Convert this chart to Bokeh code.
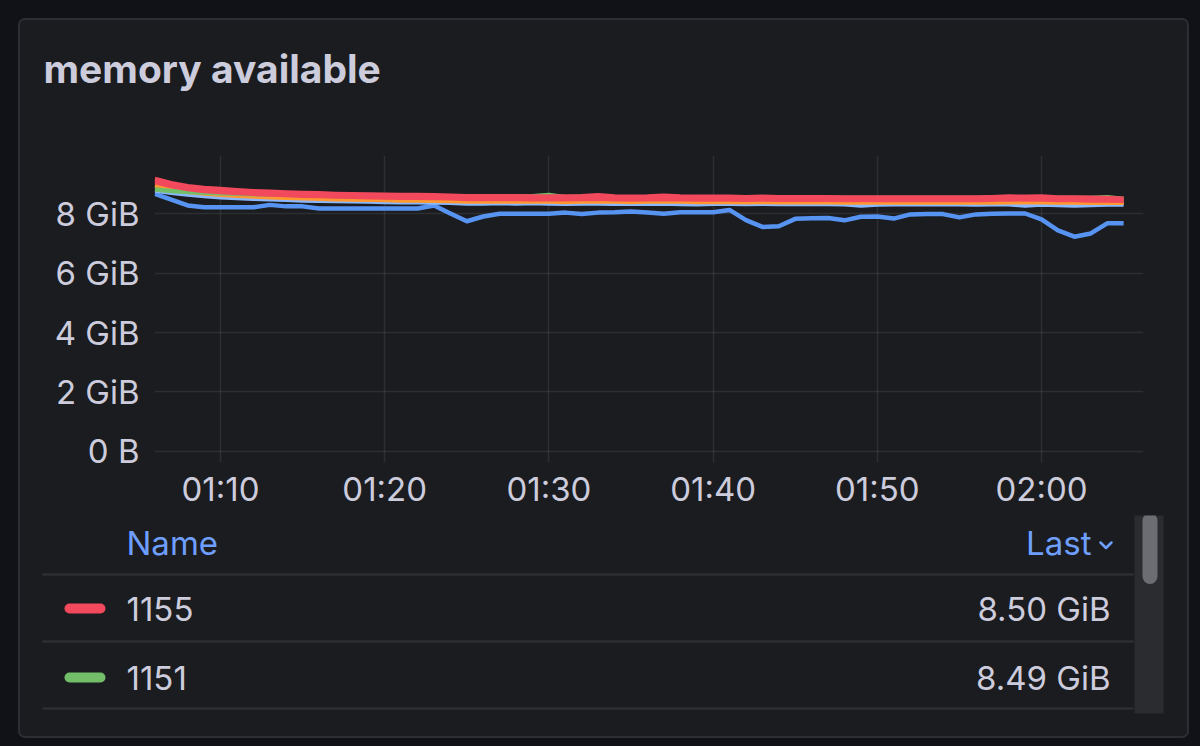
from bokeh.plotting import figure
from bokeh.models import Range1d, FixedTicker
from bokeh.layouts import column
from bokeh.core.properties import value
from bokeh.embed import file_html
from bokeh.resources import INLINE

# ---------------- data ----------------
minutes = list(range(66, 126))  # 01:06 .. 02:05, one sample per minute

s1150 = [8.66, 8.47, 8.27, 8.21, 8.21, 8.21, 8.21, 8.29, 8.24, 8.24,
         8.17, 8.17, 8.17, 8.17, 8.17, 8.17, 8.17, 8.27, 8.00, 7.74,
         7.90, 7.99, 7.99, 7.99, 7.99, 8.03, 7.98, 8.03, 8.04, 8.07,
         8.03, 7.99, 8.04, 8.04, 8.04, 8.12, 7.78, 7.55, 7.57, 7.82,
         7.84, 7.85, 7.77, 7.89, 7.90, 7.83, 7.97, 7.98, 7.98, 7.87,
         7.97, 7.99, 8.00, 8.00, 7.80, 7.43, 7.22, 7.33, 7.67, 7.67]
s1154 = [8.77, 8.70, 8.64, 8.59, 8.55, 8.52, 8.50, 8.48, 8.46, 8.44,
         8.43, 8.42, 8.41, 8.40, 8.39, 8.38, 8.38, 8.37, 8.36, 8.34,
         8.34, 8.35, 8.34, 8.35, 8.34, 8.33, 8.34, 8.34, 8.33, 8.34,
         8.33, 8.34, 8.32, 8.31, 8.33, 8.33, 8.32, 8.33, 8.32, 8.32,
         8.33, 8.32, 8.31, 8.27, 8.30, 8.31, 8.31, 8.31, 8.31, 8.31,
         8.30, 8.31, 8.31, 8.27, 8.30, 8.29, 8.27, 8.29, 8.30, 8.30]
s1152 = [8.94, 8.82, 8.73, 8.67, 8.63, 8.60, 8.57, 8.55, 8.53, 8.51,
         8.50, 8.48, 8.47, 8.46, 8.45, 8.44, 8.44, 8.43, 8.42, 8.40,
         8.40, 8.40, 8.40, 8.40, 8.40, 8.39, 8.40, 8.40, 8.40, 8.39,
         8.40, 8.40, 8.40, 8.39, 8.39, 8.39, 8.38, 8.39, 8.38, 8.38,
         8.38, 8.38, 8.37, 8.37, 8.37, 8.37, 8.37, 8.37, 8.37, 8.37,
         8.37, 8.37, 8.38, 8.38, 8.38, 8.37, 8.37, 8.36, 8.36, 8.36]
s1151 = [8.81, 8.76, 8.72, 8.70, 8.68, 8.66, 8.65, 8.64, 8.63, 8.62,
         8.62, 8.61, 8.61, 8.60, 8.60, 8.59, 8.59, 8.58, 8.57, 8.56,
         8.56, 8.56, 8.57, 8.58, 8.62, 8.55, 8.56, 8.57, 8.55, 8.54,
         8.55, 8.56, 8.55, 8.54, 8.54, 8.54, 8.53, 8.54, 8.53, 8.53,
         8.53, 8.53, 8.52, 8.52, 8.52, 8.52, 8.52, 8.52, 8.52, 8.52,
         8.52, 8.53, 8.54, 8.54, 8.54, 8.52, 8.52, 8.52, 8.55, 8.49]
s1153 = [9.06, 8.92, 8.82, 8.76, 8.72, 8.69, 8.66, 8.64, 8.62, 8.60,
         8.59, 8.57, 8.56, 8.55, 8.54, 8.53, 8.53, 8.52, 8.51, 8.49,
         8.49, 8.49, 8.49, 8.48, 8.48, 8.48, 8.49, 8.50, 8.48, 8.47,
         8.48, 8.49, 8.48, 8.47, 8.47, 8.47, 8.46, 8.47, 8.46, 8.46,
         8.46, 8.46, 8.45, 8.45, 8.45, 8.45, 8.45, 8.45, 8.45, 8.45,
         8.45, 8.46, 8.48, 8.47, 8.47, 8.45, 8.45, 8.44, 8.44, 8.43]
s1155 = [9.16, 9.02, 8.92, 8.86, 8.82, 8.78, 8.75, 8.73, 8.71, 8.69,
         8.68, 8.66, 8.65, 8.64, 8.63, 8.62, 8.62, 8.61, 8.60, 8.58,
         8.58, 8.58, 8.58, 8.57, 8.57, 8.57, 8.58, 8.61, 8.57, 8.56,
         8.57, 8.60, 8.57, 8.56, 8.56, 8.56, 8.55, 8.56, 8.55, 8.55,
         8.55, 8.55, 8.54, 8.54, 8.54, 8.54, 8.54, 8.54, 8.54, 8.54,
         8.54, 8.55, 8.57, 8.56, 8.57, 8.54, 8.54, 8.53, 8.52, 8.50]

series_names = ["1150", "1154", "1152", "1151", "1153", "1155"]
series_values = [s1150, s1154, s1152, s1151, s1153, s1155]
series_colors = ["#5794F2", "#8AB8FF", "#FF9830", "#73BF69", "#F2495C", "#F2495C"]

x_ticks = [70, 80, 90, 100, 110, 120]
x_tick_labels = ["01:10", "01:20", "01:30", "01:40", "01:50", "02:00"]
y_ticks = [0, 2, 4, 6, 8]
y_tick_labels = ["0 B", "2 GiB", "4 GiB", "6 GiB", "8 GiB"]

legend_names = ["1155", "1151"]
legend_colors = ["#F2495C", "#73BF69"]
legend_last = ["8.50 GiB", "8.49 GiB"]

TITLE = "memory available"

# ---------------- style ----------------
OUTER = "#111217"
PANEL = "#1b1c20"
BORDER = "#2c2e33"
TEXT = "#ccccdc"
LINK = "#6E9FFF"
FONT = "Inter"

# panel content box in page pixels
CX0, CX1 = 20, 1187
TY0, TY1 = 20, 120      # title strip
AY0, AY1 = 120, 515     # chart strip
BY0, BY1 = 515, 736     # legend strip
W = CX1 - CX0


def canvas_fig(y0, y1):
    f = figure(width=W, height=y1 - y0, output_backend="svg", toolbar_location=None,
               x_range=Range1d(CX0, CX1), y_range=Range1d(y1, y0),
               min_border=0, background_fill_color=PANEL, border_fill_color=PANEL,
               outline_line_color=None, frame_align=False)
    f.axis.visible = False
    f.grid.visible = False
    return f


# ---- title strip ----
t = canvas_fig(TY0, TY1)
t.text(x=[43], y=[68], text=[TITLE], text_font=value(FONT), text_font_size="39px",
       text_font_style="bold", text_color=TEXT, text_baseline="middle")

# ---- chart ----
p = figure(width=W, height=AY1 - AY0, output_backend="svg", toolbar_location=None,
           x_range=Range1d(65.98, 126.21), y_range=Range1d(-0.37, 9.95),
           min_border_left=154 - CX0, min_border_right=CX1 - 1143,
           min_border_top=155 - AY0, min_border_bottom=AY1 - 462,
           background_fill_color=PANEL, border_fill_color=PANEL,
           outline_line_color=None, frame_align=False)

for name, vals, col in zip(series_names, series_values, series_colors):
    p.line(minutes, vals, line_color=col, line_width=4.5, line_join="round")

p.xaxis.ticker = FixedTicker(ticks=x_ticks)
p.xaxis.major_label_overrides = dict(zip(x_ticks, x_tick_labels))
p.yaxis.ticker = FixedTicker(ticks=y_ticks)
p.yaxis.major_label_overrides = dict(zip(y_ticks, y_tick_labels))
for ax in (p.xaxis, p.yaxis):
    ax.axis_line_color = None
    ax.major_tick_line_color = None
    ax.minor_tick_line_color = None
    ax.major_tick_out = 0
    ax.major_tick_in = 0
    ax.major_label_text_font = FONT
    ax.major_label_text_font_size = "33px"
    ax.major_label_text_color = TEXT
p.xaxis.major_label_standoff = 6
p.yaxis.major_label_standoff = 15
p.grid.grid_line_color = TEXT
p.grid.grid_line_alpha = 0.1
p.grid.grid_line_width = 1.5

# ---- legend strip ----
b = canvas_fig(BY0, BY1)
b.text(x=[126], y=[542], text=["Name"], text_font=value(FONT), text_font_size="33px",
       text_color=LINK, text_baseline="middle")
b.text(x=[1091], y=[542], text=["Last"], text_font=value(FONT), text_font_size="33px",
       text_color=LINK, text_baseline="middle", text_align="right")
# sort chevron
b.line(x=[1100, 1105.5, 1111], y=[542, 547.5, 542], line_color=LINK, line_width=2.5,
       line_join="round", line_cap="round")
b.segment(x0=[42, 42, 42], x1=[1133, 1133, 1133], y0=[574, 641, 708], y1=[574, 641, 708],
          line_color=BORDER, line_width=2.5)
row_y = [608, 677]
b.segment(x0=[69] * 2, x1=[100] * 2, y0=row_y, y1=row_y, line_color=legend_colors,
          line_width=10, line_cap="round")
b.text(x=[126] * 2, y=row_y, text=legend_names, text_font=value(FONT),
       text_font_size="33px", text_color=TEXT, text_baseline="middle")
b.text(x=[1110] * 2, y=row_y, text=legend_last, text_font=value(FONT),
       text_font_size="33px", text_color=TEXT, text_baseline="middle", text_align="right")
# scrollbar
b.quad(left=[1134], right=[1163], top=[509], bottom=[713], fill_color="#2b2c30",
       line_color=None)
b.segment(x0=[1149.5], x1=[1149.5], y0=[520], y1=[576], line_color="#6c6d72",
          line_width=15, line_cap="round")

layout = column(t, p, b, spacing=0, margin=(18, 0, 0, 18),
                styles={"border": "2px solid " + BORDER, "border-radius": "7px",
                        "background-color": PANEL, "overflow": "hidden"})

html = file_html(layout, INLINE)
html = html.replace("</head>", "<style>html, body { background: #111217; }</style></head>", 1)
open("out.html", "w").write(html)
